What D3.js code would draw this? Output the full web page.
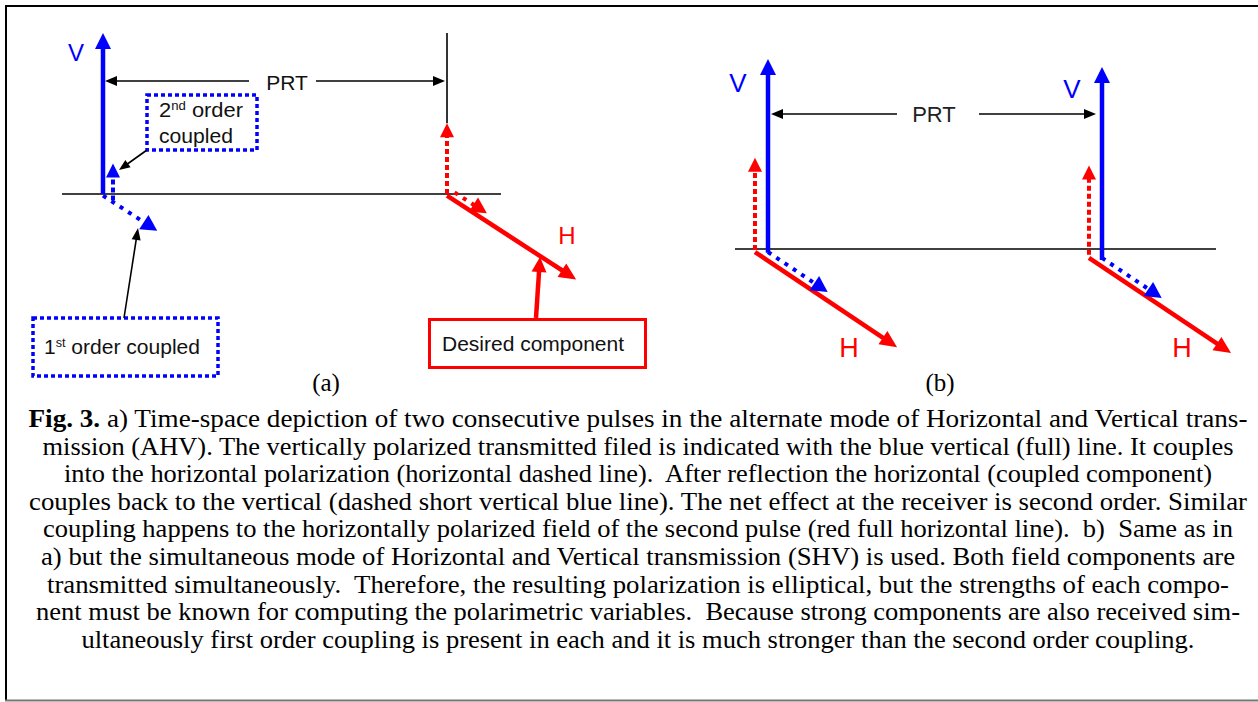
<!DOCTYPE html>
<html>
<head>
<meta charset="utf-8">
<script src="https://cdn.jsdelivr.net/npm/d3@7"></script>
<style>
  html, body { margin: 0; padding: 0; background: #fff; }
  svg { display: block; }
  text { white-space: pre; }
</style>
</head>
<body>
<svg id="fig" width="1258" height="702"></svg>
<script>
// ---------------- DATA ----------------
// Pulse times, in units of the pulse repetition time (PRT)
const pulseTimes = [0, 1];
const panelLabels = ["(a)", "(b)"];
const fieldLabels = ["V", "H"];

// Panel (a) AHV: vertical components (pulse index, time offset, start / end amplitude)
const aVertical = [
  { pulse: 0, dt: 0.000, v0: 0.00, v1: 1.00, src: "V", coupled: false },
  { pulse: 0, dt: 0.029, v0: -0.04, v1: 0.19, src: "V", coupled: true },
  { pulse: 1, dt: 0.000, v0: 0.00, v1: 0.44, src: "H", coupled: true }
];
// Panel (a): horizontal components (drawn obliquely)
const aHorizontal = [
  { pulse: 0, dt: 0.000, v: -0.01, h0: 0.00, h1: 0.42, src: "V", coupled: true },
  { pulse: 1, dt: 0.000, v: -0.01, h0: 0.00, h1: 1.00, src: "H", coupled: false },
  { pulse: 1, dt: 0.022, v: 0.01, h0: 0.00, h1: 0.25, src: "H", coupled: true }
];

// Panel (b) SHV: vertical components
const bVertical = [
  { pulse: 0, dt: 0.000, v0: -0.02, v1: 1.00, src: "V", coupled: false },
  { pulse: 0, dt: -0.039, v0: -0.005, v1: 0.48, src: "H", coupled: true },
  { pulse: 1, dt: 0.000, v0: -0.058, v1: 0.958, src: "V", coupled: false },
  { pulse: 1, dt: -0.039, v0: -0.03, v1: 0.44, src: "H", coupled: true }
];
// Panel (b): horizontal components
const bHorizontal = [
  { pulse: 0, dt: -0.039, v: -0.016, h0: 0, h1: 1.00, src: "H", coupled: false },
  { pulse: 0, dt: 0.000, v: -0.016, h0: 0, h1: 0.42, src: "V", coupled: true },
  { pulse: 1, dt: -0.039, v: -0.047, h0: 0, h1: 1.00, src: "H", coupled: false },
  { pulse: 1, dt: 0.000, v: -0.047, h0: 0, h1: 0.42, src: "V", coupled: true }
];

const annotationLabels = ["PRT", "2nd order", "coupled", "1st order coupled", "Desired component"];

const captionLines = [
  ["Fig. 3.", " a) Time-space depiction of two consecutive pulses in the alternate mode of Horizontal and Vertical trans-"],
  ["", "mission (AHV). The vertically polarized transmitted filed is indicated with the blue vertical (full) line. It couples"],
  ["", "into the horizontal polarization (horizontal dashed line).  After reflection the horizontal (coupled component)"],
  ["", "couples back to the vertical (dashed short vertical blue line). The net effect at the receiver is second order. Similar"],
  ["", "coupling happens to the horizontally polarized field of the second pulse (red full horizontal line).  b)  Same as in"],
  ["", "a) but the simultaneous mode of Horizontal and Vertical transmission (SHV) is used. Both field components are"],
  ["", "transmitted simultaneously.  Therefore, the resulting polarization is elliptical, but the strengths of each compo-"],
  ["", "nent must be known for computing the polarimetric variables.  Because strong components are also received sim-"],
  ["", "ultaneously first order coupling is present in each and it is much stronger than the second order coupling."]
];
// measured printed width of each caption line (px)
const captionWidths = [1219, 1191, 1148, 1218, 1190, 1194, 1182, 1204, 1113];

// ---------------- DRAWING ----------------
const svg = d3.select("#fig");
const BLUE = "#0000ff", RED = "#ff0000";
const colorOf = d3.scaleOrdinal().domain(["V", "H"]).range([BLUE, RED]);
const SANS = "'Liberation Sans', Arial, sans-serif";
const SERIF = "'Liberation Serif', 'Times New Roman', serif";

// frame
svg.append("line").attr("x1", 5).attr("x2", 1258).attr("y1", 6).attr("y2", 6)
  .attr("stroke", "#000").attr("stroke-width", 2);
svg.append("line").attr("x1", 6).attr("x2", 6).attr("y1", 5).attr("y2", 701)
  .attr("stroke", "#000").attr("stroke-width", 2);
svg.append("line").attr("x1", 5).attr("x2", 1258).attr("y1", 700.5).attr("y2", 700.5)
  .attr("stroke", "#777").attr("stroke-width", 2);

function arrow(g, x0, y0, x1, y1, o) {
  const dx = x1 - x0, dy = y1 - y0, L = Math.hypot(dx, dy);
  const ux = dx / L, uy = dy / L, px = -uy, py = ux;
  const hl = o.headLen, hw = o.headW;
  const bx = x1 - ux * hl, by = y1 - uy * hl;
  const ex = x1 - ux * hl * 0.7, ey = y1 - uy * hl * 0.7;
  g.append("line").attr("x1", x0).attr("y1", y0).attr("x2", ex).attr("y2", ey)
    .attr("stroke", o.color).attr("stroke-width", o.width)
    .attr("stroke-dasharray", o.dash || null);
  g.append("path")
    .attr("d", `M${x1},${y1}L${bx + px * hw / 2},${by + py * hw / 2}L${bx - px * hw / 2},${by - py * hw / 2}Z`)
    .attr("fill", o.color);
}

function drawPanel(cfg) {
  const g = svg.append("g");
  const x = d3.scaleLinear().domain([0, 1]).range(cfg.xRange);
  const y = d3.scaleLinear().domain([0, 1]).range(cfg.yRange);
  const h = d3.scaleLinear().domain([0, 1]).range([0, cfg.hLen]);
  const ca = Math.cos(cfg.angle * Math.PI / 180), sa = Math.sin(cfg.angle * Math.PI / 180);

  // baseline (time axis)
  g.append("line").attr("x1", cfg.axisX[0]).attr("x2", cfg.axisX[1])
    .attr("y1", y(0)).attr("y2", y(0)).attr("stroke", "#000").attr("stroke-width", 1.6);

  // oblique (horizontal polarization) components
  cfg.hor.forEach(d => {
    const bx = x(pulseTimes[d.pulse] + d.dt), by = y(d.v);
    const sx = bx + h(d.h0) * ca, sy = by + h(d.h0) * sa;
    const tx = bx + h(d.h1) * ca, ty = by + h(d.h1) * sa;
    const c = colorOf(d.src);
    if (d.coupled) arrow(g, sx, sy, tx, ty, { color: c, width: 4, dash: "4,6", headLen: 16, headW: 17 });
    else arrow(g, sx, sy, tx, ty, { color: c, width: 4.5, headLen: 17, headW: 16 });
  });
  // vertical components
  cfg.ver.forEach(d => {
    const xx = x(pulseTimes[d.pulse] + d.dt);
    const c = colorOf(d.src);
    if (d.coupled) arrow(g, xx, y(d.v0), xx, y(d.v1), { color: c, width: 4, dash: "5,3", headLen: 14, headW: 14 });
    else arrow(g, xx, y(d.v0), xx, y(d.v1), { color: c, width: 4.5, headLen: 16, headW: 16 });
  });
  return { g, x, y };
}

// ---- Panel (a)
const A = drawPanel({
  xRange: [103, 447], yRange: [194, 33], hLen: 154, angle: 33,
  axisX: [62, 501], ver: aVertical, hor: aHorizontal
});
// black marker for second pulse time
A.g.append("line").attr("x1", A.x(pulseTimes[1])).attr("x2", A.x(pulseTimes[1]))
  .attr("y1", A.y(1)).attr("y2", A.y(0.44)).attr("stroke", "#000").attr("stroke-width", 1.6);
// PRT
const blk = { color: "#000", width: 1.6, headLen: 12, headW: 10 };
arrow(A.g, 249, 81, A.x(pulseTimes[0]) + 2, 81, blk);
arrow(A.g, 316, 81, A.x(pulseTimes[1]) - 2, 81, blk);
A.g.append("text").attr("x", 287).attr("y", 90).attr("text-anchor", "middle")
  .attr("font-family", SANS).attr("font-size", 21).attr("fill", "#111").text(annotationLabels[0]);
A.g.append("text").attr("x", 76).attr("y", 61).attr("text-anchor", "middle")
  .attr("font-family", SANS).attr("font-size", 24).attr("fill", BLUE).text(fieldLabels[0]);
A.g.append("text").attr("x", 567).attr("y", 244).attr("text-anchor", "middle")
  .attr("font-family", SANS).attr("font-size", 24).attr("fill", RED).text(fieldLabels[1]);

// 2nd order box
A.g.append("rect").attr("x", 147).attr("y", 95).attr("width", 110).attr("height", 55)
  .attr("fill", "none").attr("stroke", BLUE).attr("stroke-width", 3.5).attr("stroke-dasharray", "4,3");
const t2 = A.g.append("text").attr("x", 159).attr("y", 117).attr("font-family", SANS)
  .attr("font-size", 20).attr("fill", "#111").attr("textLength", 84).attr("lengthAdjust", "spacingAndGlyphs");
t2.append("tspan").text("2");
t2.append("tspan").attr("dy", -7).attr("font-size", 12).text("nd");
t2.append("tspan").attr("dy", 7).text(" order");
A.g.append("text").attr("x", 159).attr("y", 143).attr("font-family", SANS)
  .attr("font-size", 20).attr("fill", "#111").attr("textLength", 74).attr("lengthAdjust", "spacingAndGlyphs")
  .text(annotationLabels[2]);
arrow(A.g, 147, 150, 119, 170, { color: "#000", width: 1.6, headLen: 11, headW: 9 });

// 1st order box
A.g.append("rect").attr("x", 33).attr("y", 318).attr("width", 185).attr("height", 58)
  .attr("fill", "none").attr("stroke", BLUE).attr("stroke-width", 3.5).attr("stroke-dasharray", "4,3");
const t1 = A.g.append("text").attr("x", 44).attr("y", 354).attr("font-family", SANS)
  .attr("font-size", 20).attr("fill", "#111").attr("textLength", 156).attr("lengthAdjust", "spacingAndGlyphs");
t1.append("tspan").text("1");
t1.append("tspan").attr("dy", -7).attr("font-size", 12).text("st");
t1.append("tspan").attr("dy", 7).text(" order coupled");
arrow(A.g, 124, 318, 138, 228, { color: "#000", width: 1.6, headLen: 12, headW: 9 });

// Desired component box
A.g.append("rect").attr("x", 429.5).attr("y", 319.5).attr("width", 216).attr("height", 48)
  .attr("fill", "none").attr("stroke", RED).attr("stroke-width", 3);
A.g.append("text").attr("x", 442).attr("y", 351).attr("font-family", SANS)
  .attr("font-size", 20).attr("fill", "#111").attr("textLength", 182).attr("lengthAdjust", "spacingAndGlyphs")
  .text(annotationLabels[4]);
arrow(A.g, 536, 318, 540, 257, { color: RED, width: 4.5, headLen: 15, headW: 15 });

// ---- Panel (b)
const B = drawPanel({
  xRange: [768, 1102], yRange: [249, 59], hLen: 171, angle: 33.8,
  axisX: [735, 1216], ver: bVertical, hor: bHorizontal
});
arrow(B.g, 897, 114, B.x(pulseTimes[0]) + 3, 114, blk);
arrow(B.g, 979, 114, B.x(pulseTimes[1]) - 6, 114, blk);
B.g.append("text").attr("x", 934).attr("y", 122).attr("text-anchor", "middle")
  .attr("font-family", SANS).attr("font-size", 22).attr("fill", "#222").text(annotationLabels[0]);
[[738, 92], [1072, 98]].forEach(p => B.g.append("text").attr("x", p[0]).attr("y", p[1])
  .attr("text-anchor", "middle").attr("font-family", SANS).attr("font-size", 26)
  .attr("fill", BLUE).text(fieldLabels[0]));
[[849, 357], [1182, 357]].forEach(p => B.g.append("text").attr("x", p[0]).attr("y", p[1])
  .attr("text-anchor", "middle").attr("font-family", SANS).attr("font-size", 27)
  .attr("fill", RED).text(fieldLabels[1]));

// panel labels
[[326, 391], [940, 391]].forEach((p, i) => svg.append("text").attr("x", p[0]).attr("y", p[1])
  .attr("text-anchor", "middle").attr("font-family", SERIF).attr("font-size", 25)
  .attr("fill", "#000").text(panelLabels[i]));

// caption
const cap = svg.append("g").attr("font-family", SERIF).attr("font-size", 25).attr("fill", "#000");
captionLines.forEach((ln, i) => {
  const t = cap.append("text").attr("x", 638).attr("y", 427 + i * 27.6).attr("text-anchor", "middle")
    .attr("textLength", captionWidths[i]).attr("lengthAdjust", "spacingAndGlyphs");
  if (ln[0]) t.append("tspan").attr("font-weight", "bold").text(ln[0]);
  t.append("tspan").text(ln[1]);
});
</script>
</body>
</html>
